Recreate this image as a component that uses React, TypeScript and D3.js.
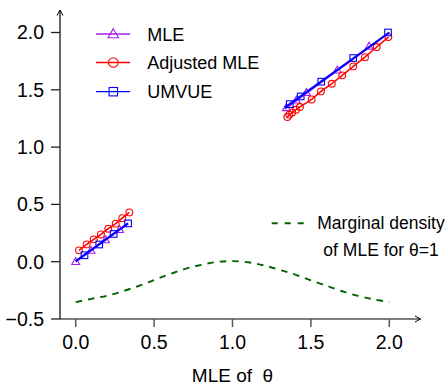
import React from "react";
import * as d3 from "d3";

// ---------- data ----------
const xTicks = [0, 0.5, 1.0, 1.5, 2.0];
const yTicks = [-0.5, 0, 0.5, 1.0, 1.5, 2.0];

// MLE
const mleLineLowX = [0, 0.333];
const mleLineLowY = [0, 0.333];
const mleLineHighX = [1.333, 2.0];
const mleLineHighY = [1.333, 2.0];
const mleMarkLowX = [0, 0.098, 0.19, 0.28];
const mleMarkLowY = [0, 0.098, 0.19, 0.28];
const mleMarkHighX = [1.343, 1.407, 1.471, 1.668, 1.871];
const mleMarkHighY = [1.343, 1.41, 1.475, 1.672, 1.88];

// Adjusted MLE
const adjLowX = [0.021, 0.07, 0.115, 0.161, 0.208, 0.255, 0.297, 0.342];
const adjLowY = [0.099, 0.151, 0.195, 0.238, 0.288, 0.332, 0.38, 0.43];
const adjHighX = [1.35, 1.362, 1.381, 1.405, 1.43, 1.505, 1.564, 1.633, 1.7, 1.77, 1.845, 1.92, 1.994];
const adjHighY = [1.262, 1.283, 1.303, 1.326, 1.35, 1.416, 1.486, 1.553, 1.626, 1.704, 1.785, 1.873, 1.96];

// UMVUE
const umvLineLowX = [0, 0.334];
const umvLineLowY = [0.005, 0.334];
const umvLineHighX = [1.333, 2.0];
const umvLineHighY = [1.345, 2.0];
const umvMarkLowX = [0.056, 0.15, 0.242, 0.334];
const umvMarkLowY = [0.056, 0.15, 0.242, 0.334];
const umvMarkHighX = [1.365, 1.435, 1.566, 1.77, 1.992];
const umvMarkHighY = [1.375, 1.442, 1.571, 1.777, 2.0];

// Marginal density (shifted / scaled as drawn)
const densX = [0, 0.1, 0.2, 0.3, 0.4, 0.5, 0.6, 0.7, 0.8, 0.9, 1.0, 1.1, 1.2, 1.3, 1.4, 1.5, 1.6, 1.7, 1.8, 1.9, 2.0];
const densY = [-0.353, -0.324, -0.297, -0.258, -0.212, -0.16, -0.109, -0.062, -0.028, -0.002, 0.005, -0.005, -0.032, -0.071, -0.112, -0.163, -0.21, -0.258, -0.298, -0.328, -0.352];

const legendLabels = ["MLE", "Adjusted MLE", "UMVUE"];
const densLabel1 = "Marginal density";
const densLabel2 = "of MLE for \u03b8=1";
const xTitle = "MLE of\u00a0\u00a0\u03b8";

// ---------- styles ----------
const PURPLE = "#a020f0";
const RED = "#ff0000";
const BLUE = "#0000ff";
const GREEN = "#006400";
const FONT = "'Liberation Sans', Arial, Helvetica, sans-serif";

const W = 448;
const H = 385;

const x = d3.scaleLinear().domain([0, 2]).range([75.7, 389.3]);
const y = d3.scaleLinear().domain([-0.5, 2]).range([319, 32.5]);

const zip = (xs: number[], ys: number[]) => xs.map((v, i) => [v, ys[i]] as [number, number]);
const line = d3.line<[number, number]>().x((d) => x(d[0])).y((d) => y(d[1]));
const smooth = d3
  .line<[number, number]>()
  .x((d) => x(d[0]))
  .y((d) => y(d[1]))
  .curve(d3.curveCatmullRom);

const triPath = (s: number) =>
  `M0,${-s}L${s * 0.866},${s / 2}L${-s * 0.866},${s / 2}Z`;

function Tri({ cx, cy, s }: { cx: number; cy: number; s: number }) {
  return <path d={triPath(s)} transform={`translate(${cx},${cy + s * 0.12})`} fill="none" stroke={PURPLE} strokeWidth={1.1} />;
}
function Circ({ cx, cy, r }: { cx: number; cy: number; r: number }) {
  return <circle cx={cx} cy={cy} r={r} fill="none" stroke={RED} strokeWidth={1.1} />;
}
function Sq({ cx, cy, s }: { cx: number; cy: number; s: number }) {
  return <rect x={cx - s} y={cy - s} width={2 * s} height={2 * s} fill="none" stroke={BLUE} strokeWidth={1.1} />;
}

export default function App() {
  const legendY = [34, 62.5, 91.7];
  return (
    <svg width={W} height={H} style={{ position: "absolute", left: 0, top: 0, background: "#fff" }} fontFamily={FONT}>
      <rect width={W} height={H} fill="#fff" />
      {/* axes */}
      <line x1={60} y1={319} x2={60} y2={10} stroke="#000" strokeWidth={1.2} />
      <path d="M57,15.5L60,10L63,15.5" fill="none" stroke="#000" strokeWidth={1} />
      <line x1={60} y1={319} x2={420.5} y2={319} stroke="#000" strokeWidth={1.2} />
      <path d="M415,316L420.5,319L415,322" fill="none" stroke="#000" strokeWidth={1} />
      {yTicks.map((t) => (
        <g key={"y" + t}>
          <line x1={51} x2={60} y1={y(t)} y2={y(t)} stroke="#222" strokeWidth={1.3} />
          <text x={44} y={y(t) + 6.8} textAnchor="end" fontSize={19.5} fill="#000">
            {(t < 0 ? "\u2212" : "") + Math.abs(t).toFixed(1)}
          </text>
        </g>
      ))}
      {xTicks.map((t) => (
        <g key={"x" + t}>
          <line x1={x(t)} x2={x(t)} y1={319} y2={327} stroke="#555" strokeWidth={1.5} />
          <text x={x(t)} y={349.3} textAnchor="middle" fontSize={19.5} fill="#000">
            {t.toFixed(1)}
          </text>
        </g>
      ))}
      <text x={x(1)} y={381.5} textAnchor="middle" fontSize={19} fill="#000">
        {xTitle}
      </text>

      {/* density */}
      <path d={smooth(zip(densX, densY)) || ""} fill="none" stroke={GREEN} strokeWidth={1.9} strokeDasharray="6.5,6" />

      {/* MLE */}
      <path d={line(zip(mleLineLowX, mleLineLowY)) || ""} stroke={PURPLE} strokeWidth={1.8} fill="none" />
      <path d={line(zip(mleLineHighX, mleLineHighY)) || ""} stroke={PURPLE} strokeWidth={1.8} fill="none" />
      {zip(mleMarkLowX.concat(mleMarkHighX), mleMarkLowY.concat(mleMarkHighY)).map((d, i) => (
        <Tri key={"t" + i} cx={x(d[0])} cy={y(d[1])} s={4.6} />
      ))}

      {/* Adjusted MLE */}
      <path d={line(zip(adjLowX, adjLowY)) || ""} stroke={RED} strokeWidth={1.5} fill="none" />
      <path d={line(zip(adjHighX, adjHighY)) || ""} stroke={RED} strokeWidth={1.5} fill="none" />
      {zip(adjLowX.concat(adjHighX), adjLowY.concat(adjHighY)).map((d, i) => (
        <Circ key={"c" + i} cx={x(d[0])} cy={y(d[1])} r={3.4} />
      ))}

      {/* UMVUE */}
      <path d={line(zip(umvLineLowX, umvLineLowY)) || ""} stroke={BLUE} strokeWidth={2} fill="none" />
      <path d={line(zip(umvLineHighX, umvLineHighY)) || ""} stroke={BLUE} strokeWidth={2} fill="none" />
      {zip(umvMarkLowX.concat(umvMarkHighX), umvMarkLowY.concat(umvMarkHighY)).map((d, i) => (
        <Sq key={"s" + i} cx={x(d[0])} cy={y(d[1])} s={3.3} />
      ))}

      {/* legend */}
      {legendLabels.map((lab, i) => {
        const col = [PURPLE, RED, BLUE][i];
        const ly = legendY[i];
        return (
          <g key={lab}>
            <line x1={96} x2={130} y1={ly} y2={ly} stroke={col} strokeWidth={1.3} />
            {i === 0 && <Tri cx={113.3} cy={ly} s={6} />}
            {i === 1 && <Circ cx={113.3} cy={ly} r={4.8} />}
            {i === 2 && <Sq cx={113.3} cy={ly} s={4.2} />}
            <text x={147.3} y={ly + 6.6} fontSize={18} fill="#000">
              {lab}
            </text>
          </g>
        );
      })}
      <line x1={271.7} x2={304} y1={223.3} y2={223.3} stroke={GREEN} strokeWidth={1.9} strokeDasharray="6,7" />
      <text x={381} y={229.3} textAnchor="middle" fontSize={17.5} fill="#000">
        {densLabel1}
      </text>
      <text x={381} y={255.7} textAnchor="middle" fontSize={17.5} fill="#000">
        {densLabel2}
      </text>
    </svg>
  );
}
